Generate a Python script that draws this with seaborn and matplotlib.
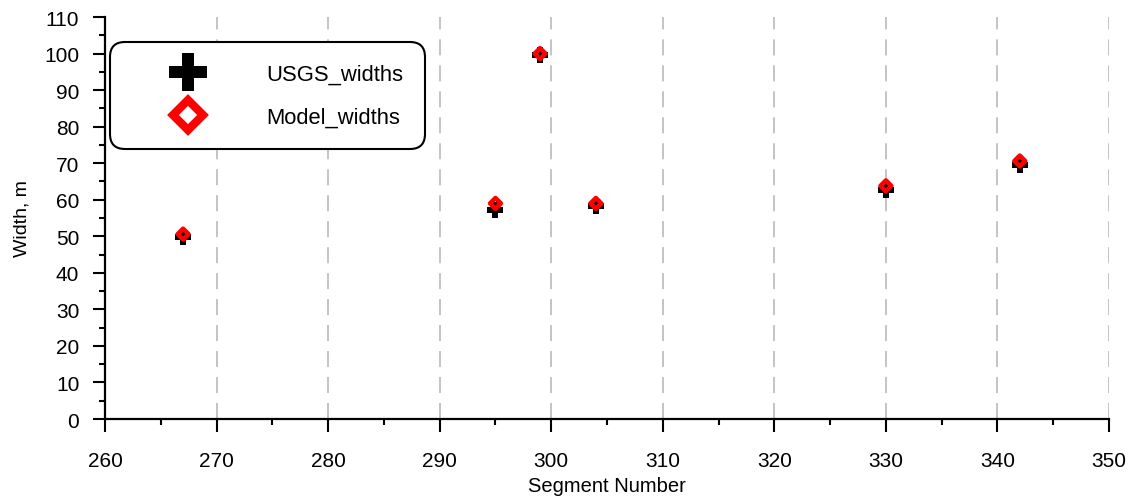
import matplotlib
matplotlib.use("Agg")
import matplotlib.pyplot as plt
from matplotlib.lines import Line2D
from matplotlib.ticker import MultipleLocator
import seaborn as sns
import pandas as pd

segments = [267, 295, 299, 304, 330, 342]
usgs_widths = [49.8, 57.2, 99.7, 58.3, 62.7, 69.5]
model_widths = [50.6, 59.0, 100.0, 59.0, 63.8, 70.6]
x_ticks = [260, 270, 280, 290, 300, 310, 320, 330, 340, 350]
y_ticks = [0, 10, 20, 30, 40, 50, 60, 70, 80, 90, 100, 110]

df = pd.DataFrame({"Segment": segments, "USGS": usgs_widths, "Model": model_widths})

sns.set_theme(style="white")
plt.rcParams["font.family"] = ["Liberation Sans", "DejaVu Sans"]

fig = plt.figure(figsize=(11.33, 5.02), dpi=100)
ax = fig.add_axes([105 / 1133, 1 - 420 / 502, 1004 / 1133, 402 / 502])

sns.scatterplot(data=df, x="Segment", y="USGS", marker="P", s=125, color="black",
                linewidth=0, ax=ax, zorder=3)
sns.scatterplot(data=df, x="Segment", y="Model", marker="D", s=30, color="red",
                ax=ax, zorder=4)
coll = ax.collections[-1]
coll.set_facecolor("none")
coll.set_edgecolor("red")
coll.set_linewidth(3.3)

ax.set_xlim(260, 350)
ax.set_ylim(0, 110)
ax.set_xticks(x_ticks)
ax.set_yticks(y_ticks)
ax.xaxis.set_minor_locator(MultipleLocator(5))
ax.yaxis.set_minor_locator(MultipleLocator(5))
ax.tick_params(axis="both", which="major", direction="out", length=9, width=1.5,
               color="black", labelsize=15, labelcolor="black")
ax.tick_params(axis="x", which="major", pad=14)
ax.tick_params(axis="y", which="major", pad=9.5)
ax.tick_params(axis="both", which="minor", direction="out", length=4.5, width=1.5,
               color="black")
ax.tick_params(bottom=True, left=True, which="both")

for s in ["top", "right"]:
    ax.spines[s].set_visible(False)
for s in ["left", "bottom"]:
    ax.spines[s].set_color("black")
    ax.spines[s].set_linewidth(1.6)

ax.grid(False)
for xv in x_ticks[1:]:
    ax.axvline(xv, color="#b4b4b4", linewidth=1.1, linestyle=(0, (10.5, 6.5)), zorder=1)

ax.set_xlabel("Segment Number", fontsize=14.5, labelpad=4, color="black")
ax.set_ylabel("Width, m", fontsize=14, labelpad=10, color="black")

handles = [
    Line2D([], [], linestyle="none", marker="P", markersize=27.5, color="black",
           markeredgewidth=0),
    Line2D([], [], linestyle="none", marker="D", markersize=15, markerfacecolor="none",
           markeredgecolor="red", markeredgewidth=6.0),
]
leg = ax.legend(handles, ["USGS_widths", "Model_widths"], loc="upper left",
                bbox_to_anchor=(0.005, 0.938), borderaxespad=0, fontsize=15.8,
                frameon=True, fancybox=True, borderpad=0.985, handlelength=5.14,
                handletextpad=0.985, labelspacing=0.99)
frame = leg.get_frame()
frame.set_edgecolor("black")
frame.set_linewidth(1.5)
frame.set_facecolor("white")
frame.set_alpha(1)
frame.set_boxstyle("round", pad=0, rounding_size=0.67)
for t in leg.get_texts():
    t.set_color("black")

fig.savefig("out.png", dpi=100)
